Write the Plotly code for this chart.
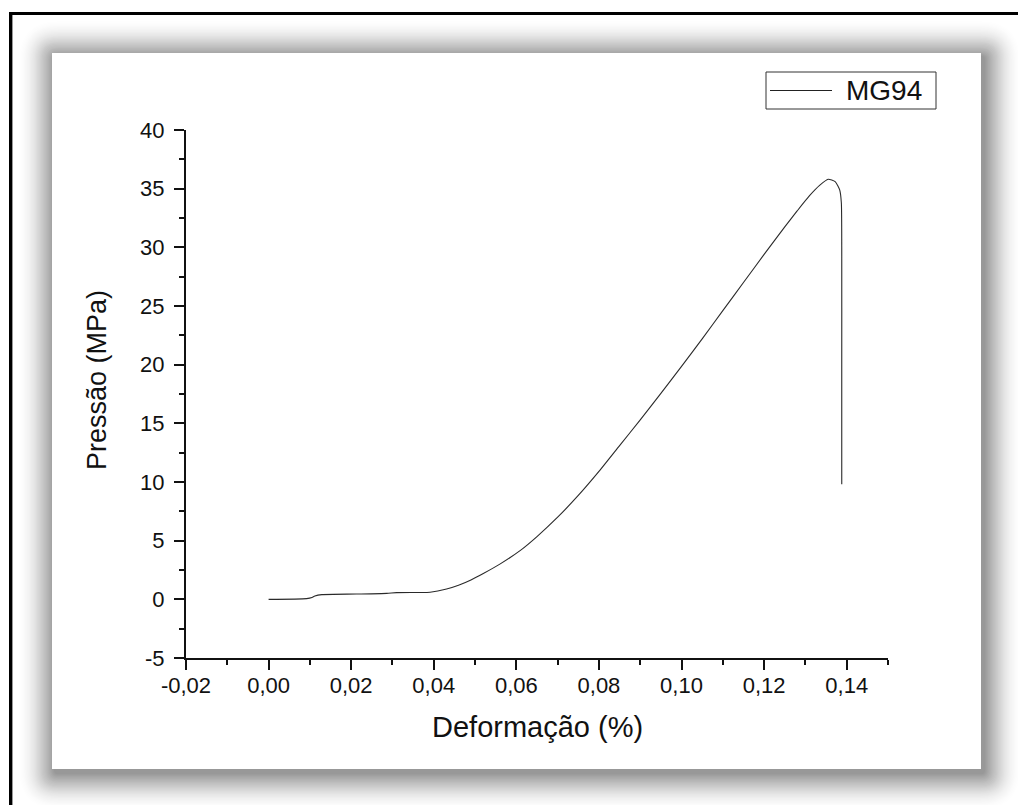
import plotly.graph_objects as go

# Stress-strain curve for specimen MG94
strain = [0.0, 0.0092, 0.0105, 0.0112, 0.0129, 0.0213, 0.0286, 0.031, 0.0367,
          0.0391, 0.0431, 0.046, 0.049, 0.052, 0.056, 0.0609, 0.065, 0.07,
          0.075, 0.08, 0.085, 0.09, 0.095, 0.10, 0.105, 0.11, 0.115, 0.12,
          0.125, 0.128, 0.131, 0.1335, 0.1355, 0.1372, 0.1383, 0.1387,
          0.1388, 0.1388, 0.1388]
stress = [0.0, 0.06, 0.15, 0.28, 0.40, 0.45, 0.51, 0.57, 0.58,
          0.61, 0.88, 1.2, 1.65, 2.2, 3.0, 4.15, 5.35, 7.0,
          8.85, 10.9, 13.1, 15.3, 17.55, 19.85, 22.2, 24.6, 27.0, 29.4,
          31.75, 33.1, 34.4, 35.3, 35.8, 35.6, 34.9, 33.8,
          30.0, 20.0, 9.8]
series_name = "MG94"

x_ticks = [-0.02, 0.0, 0.02, 0.04, 0.06, 0.08, 0.10, 0.12, 0.14]
x_tick_labels = ["-0,02", "0,00", "0,02", "0,04", "0,06", "0,08", "0,10", "0,12", "0,14"]
y_ticks = [-5, 0, 5, 10, 15, 20, 25, 30, 35, 40]
y_tick_labels = ["-5", "0", "5", "10", "15", "20", "25", "30", "35", "40"]

x_title = "Deformação (%)"
y_title = "Pressão (MPa)"

# page geometry (pixels)
W, H = 1018, 805
ML, MR, MT, MB = 186, 130, 130, 147
PW, PH = W - ML - MR, H - MT - MB


def fx(px):
    return (px - ML) / PW


def fy(py):
    return (H - MB - py) / PH


def rounded_rect(x0, y0, x1, y1, r):
    pts = [
        ("M", [(x0 + r, y0)]),
        ("L", [(x1 - r, y0)]),
        ("Q", [(x1, y0), (x1, y0 + r)]),
        ("L", [(x1, y1 - r)]),
        ("Q", [(x1, y1), (x1 - r, y1)]),
        ("L", [(x0 + r, y1)]),
        ("Q", [(x0, y1), (x0, y1 - r)]),
        ("L", [(x0, y0 + r)]),
        ("Q", [(x0, y0), (x0 + r, y0)]),
    ]
    out = []
    for cmd, pp in pts:
        out.append(cmd + " ".join(f"{fx(a):.5f},{fy(b):.5f}" for a, b in pp))
    return " ".join(out) + " Z"


shapes = []

# soft drop shadow around the white panel: stacked translucent rounded
# rectangles, stronger towards the panel edge
panel = (52, 53, 981, 769)
n_layers = 32
step = 1.2
for i in range(n_layers, 0, -1):
    e = i * step
    alpha = 0.028 * (1 - (i - 1) / n_layers)
    shapes.append(dict(
        type="path", xref="paper", yref="paper", layer="below",
        path=rounded_rect(panel[0] - e + 3, panel[1] - e + 4,
                          panel[2] + e + 3, panel[3] + e + 4, e + 3),
        fillcolor=f"rgba(0,0,0,{alpha:.4f})", line=dict(width=0),
    ))

# white panel
shapes.append(dict(
    type="rect", xref="paper", yref="paper", layer="below",
    x0=fx(panel[0]), x1=fx(panel[2]), y0=fy(panel[3]), y1=fy(panel[1]),
    fillcolor="white", line=dict(width=0),
))

# outer frame (left and top edges)
shapes.append(dict(type="line", xref="paper", yref="paper",
                   x0=fx(10.7), x1=fx(10.7), y0=fy(12), y1=fy(H + 2),
                   line=dict(color="#000000", width=3.4)))
shapes.append(dict(type="line", xref="paper", yref="paper",
                   x0=fx(9), x1=fx(W + 2), y0=fy(13.5), y1=fy(13.5),
                   line=dict(color="#000000", width=3.2)))

# legend box and sample line
shapes.append(dict(type="rect", xref="paper", yref="paper",
                   x0=fx(766), x1=fx(936), y0=fy(109), y1=fy(72),
                   fillcolor="white", line=dict(color="#333333", width=1)))
shapes.append(dict(type="line", xref="paper", yref="paper",
                   x0=fx(770), x1=fx(832), y0=fy(90.5), y1=fy(90.5),
                   line=dict(color="#222222", width=1.2)))

font_family = "Liberation Sans, Arial, sans-serif"

annotations = [
    dict(text=series_name, xref="paper", yref="paper", x=fx(844), y=fy(90.5),
         xanchor="left", yanchor="middle", showarrow=False,
         font=dict(family=font_family, size=28, color="#111111")),
    dict(text=x_title, xref="paper", yref="paper", x=0.5, y=fy(727),
         xanchor="center", yanchor="middle", showarrow=False,
         font=dict(family=font_family, size=29, color="#111111")),
    dict(text=y_title, xref="paper", yref="paper", x=fx(97), y=fy(380),
         xanchor="center", yanchor="middle", showarrow=False, textangle=-90,
         font=dict(family=font_family, size=27, color="#111111")),
]

fig = go.Figure()
fig.add_trace(go.Scatter(
    x=strain, y=stress, mode="lines", name=series_name,
    line=dict(color="#2a2a2a", width=1.1, shape="spline", smoothing=0.6),
    showlegend=False,
))

axis_common = dict(
    showline=True, linecolor="#111111", linewidth=2,
    ticks="outside", ticklen=10, tickwidth=2, tickcolor="#111111",
    showgrid=False, zeroline=False, mirror=False,
    tickfont=dict(family=font_family, size=22, color="#111111"),
)

fig.update_xaxes(
    range=[-0.02, 0.15], tickmode="array", tickvals=x_ticks, ticktext=x_tick_labels,
    minor=dict(ticks="outside", ticklen=5, tickwidth=2, tickcolor="#111111",
               tick0=0, dtick=0.01),
    ticklabelstandoff=-3,
    **axis_common,
)
fig.update_yaxes(
    range=[-5, 40], tickmode="array", tickvals=y_ticks, ticktext=y_tick_labels,
    minor=dict(ticks="outside", ticklen=5, tickwidth=2, tickcolor="#111111",
               tick0=0, dtick=2.5),
    ticklabelstandoff=5,
    **axis_common,
)

fig.update_layout(
    width=W, height=H, autosize=False,
    margin=dict(l=ML, r=MR, t=MT, b=MB, pad=0),
    paper_bgcolor="white", plot_bgcolor="rgba(0,0,0,0)",
    shapes=shapes, annotations=annotations, showlegend=False,
    font=dict(family=font_family),
)

fig.write_html("out.html", config={"displayModeBar": False})
